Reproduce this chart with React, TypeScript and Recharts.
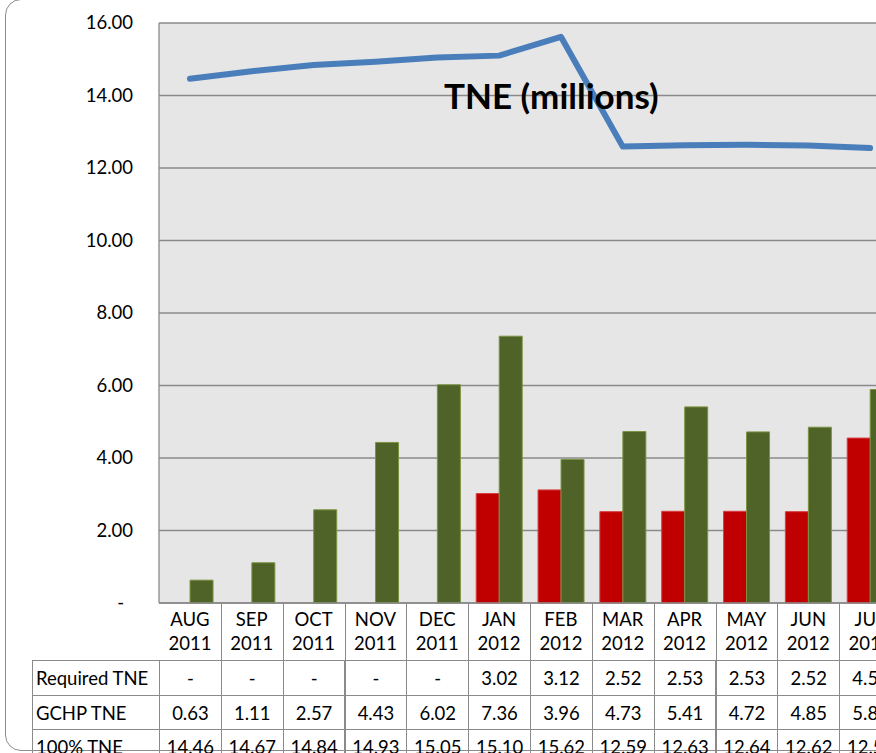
import React from 'react';
import { ComposedChart, Bar, Line, XAxis, YAxis, CartesianGrid } from 'recharts';

const months = ['AUG', 'SEP', 'OCT', 'NOV', 'DEC', 'JAN', 'FEB', 'MAR', 'APR', 'MAY', 'JUN', 'JUL'];
const years = ['2011', '2011', '2011', '2011', '2011', '2012', '2012', '2012', '2012', '2012', '2012', '2012'];
const requiredTne = [null, null, null, null, null, 3.02, 3.12, 2.52, 2.53, 2.53, 2.52, 4.55];
const gchpTne = [0.63, 1.11, 2.57, 4.43, 6.02, 7.36, 3.96, 4.73, 5.41, 4.72, 4.85, 5.89];
const fullTne = [14.46, 14.67, 14.84, 14.93, 15.05, 15.1, 15.62, 12.59, 12.63, 12.64, 12.62, 12.55];
const yTicks = [0, 2, 4, 6, 8, 10, 12, 14, 16];

const data = months.map((m, i) => ({
  label: `${m} ${years[i]}`,
  month: m,
  year: years[i],
  required: requiredTne[i],
  gchp: gchpTne[i],
  full: fullTne[i],
}));

const FONT = 'Lato, "Open Sans", sans-serif';
const PLOT_LEFT = 159;
const PLOT_TOP = 23;
const PLOT_BOTTOM = 603;
const CHART_RIGHT = 901;
const COL_W = (CHART_RIGHT - PLOT_LEFT) / months.length;
const TABLE_LEFT = 32;

const fmt = (v: number | null) => (v == null ? '-' : v.toFixed(2));

const MonthTick = (props: any) => {
  const { x, y, payload } = props;
  const d = data[payload.index] || data.find((r) => r.label === payload.value);
  return (
    <g>
      <text x={x} y={y + 15} textAnchor="middle" fontSize={18.5} fill="#000" fontFamily={FONT}>{d?.month}</text>
      <text x={x} y={y + 39} textAnchor="middle" fontSize={18.5} fill="#000" fontFamily={FONT}>{d?.year}</text>
    </g>
  );
};

const ValueTick = (props: any) => {
  const { x, y, payload } = props;
  const zero = payload.value === 0;
  return (
    <text x={zero ? x - 9 : x} y={y + 6} textAnchor="end" fontSize={18.5} fill="#000" fontFamily={FONT}>
      {zero ? '-' : payload.value.toFixed(2)}
    </text>
  );
};

const rows = [
  { name: 'Required TNE', values: requiredTne, h: 35 },
  { name: 'GCHP TNE', values: gchpTne, h: 34 },
  { name: '100% TNE', values: fullTne, h: 34 },
];

const cellBorder = '1px solid #8a8a8a';
const cellBase: React.CSSProperties = {
  padding: 0,
  boxSizing: 'border-box',
  whiteSpace: 'nowrap',
  overflow: 'hidden',
};

export default function App() {
  return (
    <div style={{ position: 'fixed', left: 0, top: 0, width: 876, height: 753, overflow: 'hidden', background: '#fff' }}>
      <div
        style={{
          position: 'absolute',
          left: 5,
          top: -1,
          width: 1000,
          height: 752,
          border: '1.5px solid #8c8c8c',
          borderRadius: 16,
          boxSizing: 'border-box',
        }}
      />
      <div style={{ position: 'absolute', left: 0, top: 0 }}>
        <ComposedChart
          width={CHART_RIGHT + 4}
          height={PLOT_BOTTOM + 57}
          data={data}
          margin={{ top: PLOT_TOP, right: 4, bottom: 0, left: 0 }}
          barCategoryGap="13%"
          barGap={0}
        >
          <CartesianGrid vertical={false} stroke="#8a8a8a" strokeWidth={1.3} fill="#e6e6e6" />
          <XAxis
            dataKey="label"
            height={57}
            tick={<MonthTick />}
            tickLine={false}
            axisLine={{ stroke: '#8a8a8a', strokeWidth: 1.3 }}
            interval={0}
          />
          <YAxis
            width={PLOT_LEFT}
            domain={[0, 16]}
            ticks={yTicks}
            tick={<ValueTick />}
            tickSize={0}
            tickMargin={26}
            axisLine={{ stroke: '#8a8a8a', strokeWidth: 1.3 }}
            tickLine={false}
          />
          <Bar dataKey="required" fill="#c00000" stroke="#d84040" strokeWidth={1} isAnimationActive={false} />
          <Bar dataKey="gchp" fill="#4f6228" stroke="#7a9440" strokeWidth={1} isAnimationActive={false} />
          <Line
            dataKey="full"
            type="linear"
            stroke="#4a7ebb"
            strokeWidth={6}
            strokeLinecap="round"
            strokeLinejoin="round"
            dot={false}
            activeDot={false}
            isAnimationActive={false}
          />
        </ComposedChart>
      </div>
      <div
        style={{
          position: 'absolute',
          left: 444,
          top: 74,
          fontFamily: FONT,
          fontWeight: 700,
          fontSize: 35,
          color: '#000',
          whiteSpace: 'nowrap',
          lineHeight: '42px',
        }}
      >
        TNE (millions)
      </div>
      <div style={{ position: 'absolute', left: 0, top: PLOT_BOTTOM, fontFamily: FONT, fontSize: 18.5, color: '#000' }}>
        {months.map((m, i) => (
          <div
            key={m}
            style={{
              position: 'absolute',
              left: PLOT_LEFT + i * COL_W,
              top: 0,
              width: COL_W,
              height: 57,
              borderLeft: i === 0 ? 'none' : cellBorder,
              boxSizing: 'border-box',
            }}
          />
        ))}
        {rows.map((r, ri) => {
          const top = 57 + rows.slice(0, ri).reduce((s, x) => s + x.h, 0);
          return (
            <React.Fragment key={r.name}>
              <div
                style={{
                  ...cellBase,
                  position: 'absolute',
                  left: TABLE_LEFT,
                  top,
                  width: PLOT_LEFT - TABLE_LEFT + 1,
                  height: r.h + 1,
                  border: cellBorder,
                  paddingLeft: 3,
                  lineHeight: `${r.h}px`,
                }}
              >
                {r.name}
              </div>
              {r.values.map((v, i) => (
                <div
                  key={i}
                  style={{
                    ...cellBase,
                    position: 'absolute',
                    left: PLOT_LEFT + i * COL_W,
                    top,
                    width: COL_W + 1,
                    height: r.h + 1,
                    border: cellBorder,
                    textAlign: 'center',
                    lineHeight: `${r.h}px`,
                  }}
                >
                  {fmt(v)}
                </div>
              ))}
            </React.Fragment>
          );
        })}
      </div>
    </div>
  );
}
